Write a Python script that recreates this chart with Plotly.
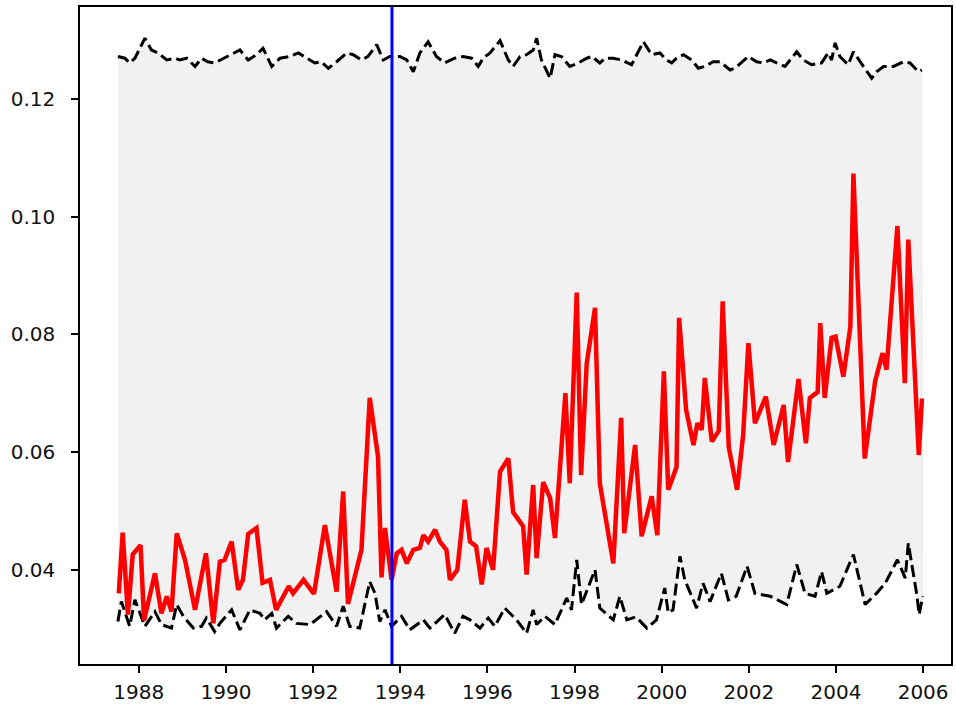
import plotly.graph_objects as go

# ---- data (decimal years, values) ----
red_x = [1987.54, 1987.63, 1987.75, 1987.86, 1988.04, 1988.12, 1988.37, 1988.52, 1988.64, 1988.75,
         1988.87, 1989.06, 1989.29, 1989.54, 1989.71, 1989.86, 1989.97, 1990.13, 1990.28, 1990.39,
         1990.51, 1990.70, 1990.84, 1991.01, 1991.15, 1991.44, 1991.54, 1991.78, 1992.02, 1992.27,
         1992.54, 1992.69, 1992.80, 1993.11, 1993.30, 1993.49, 1993.57, 1993.65, 1993.80, 1993.92,
         1994.03, 1994.15, 1994.30, 1994.45, 1994.53, 1994.64, 1994.80, 1994.91, 1995.06, 1995.14,
         1995.31, 1995.48, 1995.60, 1995.74, 1995.87, 1995.98, 1996.13, 1996.29, 1996.48, 1996.59,
         1996.82, 1996.90, 1997.05, 1997.13, 1997.28, 1997.44, 1997.55, 1997.79, 1997.89, 1998.05,
         1998.15, 1998.28, 1998.47, 1998.58, 1998.89, 1999.07, 1999.14, 1999.39, 1999.54, 1999.77,
         1999.90, 2000.05, 2000.15, 2000.34, 2000.40, 2000.56, 2000.73, 2000.82, 2000.92, 2000.99,
         2001.15, 2001.31, 2001.40, 2001.54, 2001.73, 2001.87, 2001.99, 2002.14, 2002.39, 2002.57,
         2002.80, 2002.90, 2003.14, 2003.31, 2003.40, 2003.58, 2003.64, 2003.74, 2003.90, 2003.99,
         2004.17, 2004.33, 2004.40, 2004.66, 2004.90, 2005.07, 2005.16, 2005.41, 2005.58, 2005.66,
         2005.90, 2005.97, 2006.02]
red_y = [0.0360, 0.0463, 0.0324, 0.0426, 0.0442, 0.0314, 0.0394, 0.0326, 0.0355, 0.0329,
         0.0462, 0.0417, 0.0332, 0.0428, 0.0309, 0.0414, 0.0417, 0.0448, 0.0366, 0.0383,
         0.0461, 0.0471, 0.0378, 0.0383, 0.0332, 0.0372, 0.0360, 0.0383, 0.0359, 0.0476,
         0.0363, 0.0533, 0.0342, 0.0434, 0.0692, 0.0592, 0.0387, 0.0471, 0.0383, 0.0428,
         0.0434, 0.0411, 0.0434, 0.0437, 0.0459, 0.0448, 0.0468, 0.0448, 0.0434, 0.0383,
         0.0400, 0.0519, 0.0448, 0.0440, 0.0375, 0.0437, 0.0400, 0.0567, 0.0589, 0.0498,
         0.0474, 0.0392, 0.0544, 0.0420, 0.0549, 0.0522, 0.0454, 0.0700, 0.0547, 0.0871,
         0.0561, 0.0751, 0.0845, 0.0547, 0.0411, 0.0658, 0.0462, 0.0612, 0.0457, 0.0525,
         0.0459, 0.0737, 0.0536, 0.0574, 0.0828, 0.0672, 0.0612, 0.0649, 0.0638, 0.0726,
         0.0618, 0.0636, 0.0856, 0.0608, 0.0536, 0.0629, 0.0785, 0.0649, 0.0694, 0.0612,
         0.0680, 0.0583, 0.0724, 0.0615, 0.0692, 0.0702, 0.0819, 0.0692, 0.0794, 0.0796,
         0.0728, 0.0813, 0.1073, 0.0589, 0.0721, 0.0768, 0.0740, 0.0984, 0.0717, 0.0961,
         0.0595, 0.0687, 0.0687]

lower_x = [1987.52, 1987.60, 1987.79, 1987.91, 1988.14, 1988.37, 1988.52, 1988.75, 1988.87, 1989.02,
           1989.25, 1989.44, 1989.55, 1989.74, 1989.86, 1990.13, 1990.32, 1990.55, 1990.78, 1990.89,
           1991.05, 1991.16, 1991.43, 1991.62, 1991.93, 1992.31, 1992.54, 1992.69, 1992.84, 1993.07,
           1993.30, 1993.42, 1993.53, 1993.65, 1993.80, 1994.03, 1994.22, 1994.53, 1994.68, 1995.02,
           1995.25, 1995.44, 1995.60, 1995.83, 1996.02, 1996.17, 1996.40, 1996.67, 1996.90, 1997.05,
           1997.13, 1997.32, 1997.55, 1997.82, 1997.93, 1998.05, 1998.16, 1998.47, 1998.58, 1998.89,
           1999.04, 1999.20, 1999.41, 1999.66, 1999.88, 2000.07, 2000.15, 2000.26, 2000.42, 2000.53,
           2000.80, 2000.95, 2001.11, 2001.37, 2001.53, 2001.71, 2001.96, 2002.14, 2002.49, 2002.87,
           2003.10, 2003.29, 2003.52, 2003.67, 2003.79, 2004.09, 2004.40, 2004.67, 2004.93, 2005.13,
           2005.41, 2005.59, 2005.66, 2005.85, 2005.91, 2005.99]
lower_y = [0.0312, 0.0346, 0.0304, 0.0349, 0.0304, 0.0329, 0.0307, 0.0301, 0.0341, 0.0321,
           0.0301, 0.0304, 0.0318, 0.0295, 0.0309, 0.0332, 0.0298, 0.0332, 0.0326, 0.0315,
           0.0326, 0.0301, 0.0321, 0.0309, 0.0307, 0.0329, 0.0304, 0.0338, 0.0304, 0.0301,
           0.0380, 0.0360, 0.0312, 0.0332, 0.0304, 0.0321, 0.0298, 0.0315, 0.0301, 0.0324,
           0.0292, 0.0321, 0.0315, 0.0301, 0.0318, 0.0304, 0.0335, 0.0315, 0.0292, 0.0332,
           0.0307, 0.0321, 0.0307, 0.0352, 0.0332, 0.0417, 0.0341, 0.0400, 0.0335, 0.0315,
           0.0355, 0.0315, 0.0320, 0.0301, 0.0315, 0.0369, 0.0327, 0.0332, 0.0423, 0.0383,
           0.0335, 0.0377, 0.0346, 0.0394, 0.0349, 0.0355, 0.0406, 0.0360, 0.0355, 0.0341,
           0.0409, 0.0360, 0.0355, 0.0397, 0.0360, 0.0372, 0.0426, 0.0341, 0.0360, 0.0377,
           0.0417, 0.0386, 0.0445, 0.0360, 0.0324, 0.0355]

upper_x = [1987.52, 1987.68, 1987.79, 1987.91, 1988.14, 1988.29, 1988.44, 1988.64, 1988.83, 1988.94,
           1989.10, 1989.29, 1989.44, 1989.58, 1989.74, 1989.94, 1990.16, 1990.32, 1990.51, 1990.70,
           1990.85, 1991.05, 1991.24, 1991.47, 1991.66, 1991.85, 1992.04, 1992.19, 1992.35, 1992.54,
           1992.77, 1992.92, 1993.11, 1993.26, 1993.46, 1993.61, 1993.76, 1993.99, 1994.15, 1994.30,
           1994.45, 1994.64, 1994.83, 1995.02, 1995.25, 1995.44, 1995.64, 1995.79, 1995.90, 1996.06,
           1996.29, 1996.48, 1996.59, 1996.75, 1996.90, 1997.05, 1997.13, 1997.24, 1997.44, 1997.55,
           1997.70, 1997.89, 1998.09, 1998.28, 1998.40, 1998.58, 1998.70, 1998.89, 1999.08, 1999.31,
           1999.43, 1999.58, 1999.77, 1999.96, 2000.11, 2000.23, 2000.34, 2000.50, 2000.69, 2000.84,
           2000.99, 2001.18, 2001.34, 2001.57, 2001.68, 2001.91, 2001.99, 2002.18, 2002.33, 2002.49,
           2002.64, 2002.83, 2002.98, 2003.10, 2003.25, 2003.44, 2003.67, 2003.82, 2003.90, 2003.98,
           2004.09, 2004.28, 2004.40, 2004.51, 2004.63, 2004.82, 2004.93, 2005.09, 2005.32, 2005.55,
           2005.70, 2005.89, 2005.97]
upper_y = [0.1272, 0.1269, 0.1261, 0.1269, 0.1303, 0.1283, 0.1278, 0.1266, 0.1269, 0.1266,
           0.1269, 0.1255, 0.1269, 0.1263, 0.1261, 0.1269, 0.1278, 0.1283, 0.1266, 0.1275,
           0.1286, 0.1255, 0.1269, 0.1272, 0.1278, 0.1269, 0.1261, 0.1263, 0.1252, 0.1263,
           0.1278, 0.1275, 0.1266, 0.1272, 0.1292, 0.1266, 0.1272, 0.1272, 0.1266, 0.1246,
           0.1278, 0.1297, 0.1272, 0.1261, 0.1269, 0.1272, 0.1269, 0.1255, 0.1269, 0.1278,
           0.1299, 0.1266, 0.1255, 0.1272, 0.1275, 0.1283, 0.1303, 0.1266, 0.1235, 0.1275,
           0.1272, 0.1255, 0.1261, 0.1269, 0.1272, 0.1261, 0.1269, 0.1269, 0.1266, 0.1258,
           0.1275, 0.1297, 0.1275, 0.1278, 0.1266, 0.1261, 0.1269, 0.1275, 0.1266, 0.1252,
           0.1255, 0.1263, 0.1263, 0.1249, 0.1252, 0.1266, 0.1272, 0.1263, 0.1261, 0.1266,
           0.1261, 0.1255, 0.1269, 0.1280, 0.1266, 0.1258, 0.1261, 0.1278, 0.1266, 0.1295,
           0.1272, 0.1258, 0.1280, 0.1269, 0.1255, 0.1235, 0.1246, 0.1255, 0.1255, 0.1263,
           0.1261, 0.1246, 0.1249]

vline_x = 1993.81
x_ticks = [1988, 1990, 1992, 1994, 1996, 1998, 2000, 2002, 2004, 2006]
y_ticks = [0.04, 0.06, 0.08, 0.10, 0.12]
y_tick_labels = ["0.04", "0.06", "0.08", "0.10", "0.12"]

fig = go.Figure()

# band between bounds
fig.add_trace(go.Scatter(
    x=upper_x + lower_x[::-1], y=upper_y + lower_y[::-1],
    fill="toself", fillcolor="rgb(241,241,241)", mode="lines",
    line=dict(width=0.6, color="rgb(228,228,228)"), hoverinfo="skip", showlegend=False))

fig.add_trace(go.Scatter(x=upper_x, y=upper_y, mode="lines",
                         line=dict(color="black", width=3, dash="12px,5px"), showlegend=False))
fig.add_trace(go.Scatter(x=lower_x, y=lower_y, mode="lines",
                         line=dict(color="black", width=3, dash="12px,5px"), showlegend=False))
fig.add_trace(go.Scatter(x=red_x, y=red_y, mode="lines",
                         line=dict(color="#ff0000", width=4.5), showlegend=False))

fig.add_shape(type="line", x0=vline_x, x1=vline_x, xref="x", y0=0, y1=1, yref="paper",
              line=dict(color="#0000ff", width=3), layer="above")

axis_common = dict(showline=True, linecolor="black", linewidth=1.6, mirror=True,
                   ticks="outside", ticklen=7, tickwidth=1.6, tickcolor="black",
                   showgrid=False, zeroline=False,
                   tickfont=dict(family="DejaVu Sans", size=20, color="#111"))

fig.update_xaxes(range=[1986.65, 2006.64], tickvals=x_ticks, ticklabelstandoff=2, **axis_common)
fig.update_yaxes(range=[0.0240, 0.1356], tickvals=y_ticks, ticktext=y_tick_labels,
                 ticklabelstandoff=12, **axis_common)

fig.update_layout(width=956, height=706, margin=dict(l=80, r=5, t=7, b=42, autoexpand=False),
                  plot_bgcolor="white", paper_bgcolor="white",
                  font=dict(family="DejaVu Sans"))

fig.write_html("out.html", config={"displayModeBar": False},
               post_script="document.body.style.margin='0px';document.body.style.overflow='hidden';")
